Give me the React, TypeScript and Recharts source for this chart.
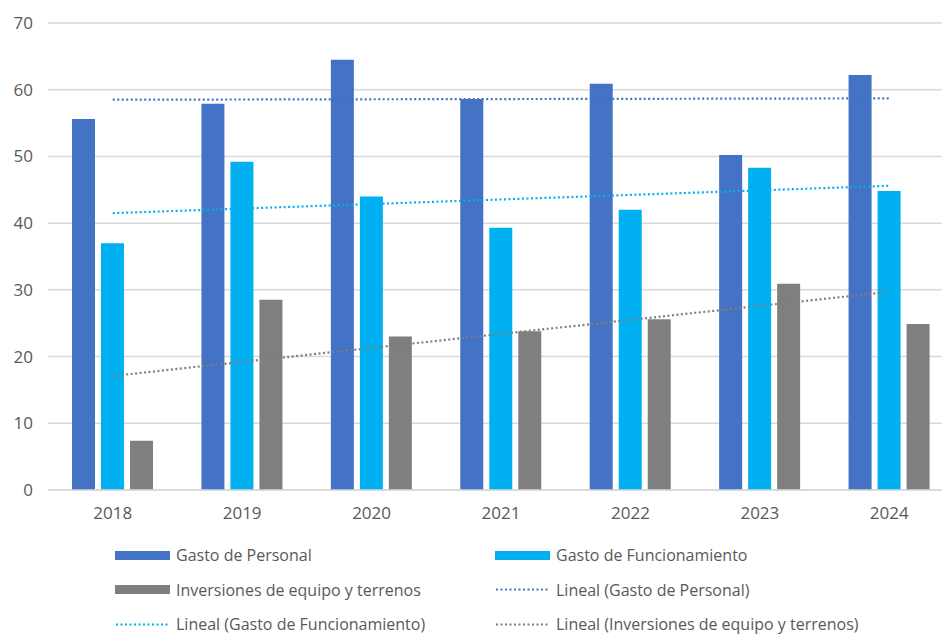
import { Bar, CartesianGrid, ComposedChart, Line, XAxis, YAxis } from 'recharts';

const YEARS = ['2018', '2019', '2020', '2021', '2022', '2023', '2024'];
const PERSONAL = [55.6, 57.9, 64.5, 58.6, 60.9, 50.2, 62.2];
const FUNCIONAMIENTO = [37.0, 49.2, 44.0, 39.3, 42.0, 48.3, 44.8];
const INVERSIONES = [7.4, 28.5, 23.0, 23.8, 25.6, 30.9, 24.9];
// trend lines at the first and last year only
const TREND_PERSONAL = [58.5, null, null, null, null, null, 58.7];
const TREND_FUNC = [41.5, null, null, null, null, null, 45.6];
const TREND_INV = [17.1, null, null, null, null, null, 29.7];
const Y_TICKS = [0, 10, 20, 30, 40, 50, 60, 70];

const C_PERSONAL = '#4472C4';
const C_FUNC = '#00B0F0';
const C_INV = '#7F7F7F';
const TEXT = '#595959';
const FONT = '"Open Sans", sans-serif';

const data = YEARS.map((year, i) => ({
  year,
  personal: PERSONAL[i],
  func: FUNCIONAMIENTO[i],
  inv: INVERSIONES[i],
  tPersonal: TREND_PERSONAL[i],
  tFunc: TREND_FUNC[i],
  tInv: TREND_INV[i],
}));

const LEGEND = [
  { label: 'Gasto de Personal', color: C_PERSONAL, kind: 'bar' },
  { label: 'Gasto de Funcionamiento', color: C_FUNC, kind: 'bar' },
  { label: 'Inversiones de equipo y terrenos', color: C_INV, kind: 'bar' },
  { label: 'Lineal (Gasto de Personal)', color: C_PERSONAL, kind: 'line' },
  { label: 'Lineal (Gasto de Funcionamiento)', color: C_FUNC, kind: 'line' },
  { label: 'Lineal (Inversiones de equipo y terrenos)', color: C_INV, kind: 'line' },
];

export default function App() {
  return (
    <div
      style={{
        position: 'absolute',
        left: 0,
        top: 0,
        width: 942,
        height: 635,
        overflow: 'hidden',
        background: '#fff',
        fontFamily: FONT,
      }}
    >
      <ComposedChart
        width={960}
        height={525}
        data={data}
        margin={{ top: 23, right: 6, bottom: 0, left: 0 }}
        barCategoryGap={24}
        barGap={6}
      >
        <CartesianGrid vertical={false} stroke="#d9d9d9" strokeWidth={1.5} />
        <XAxis
          dataKey="year"
          axisLine={{ stroke: '#d9d9d9', strokeWidth: 1.5 }}
          tickLine={false}
          tickMargin={11}
          height={35}
          tick={{ fill: TEXT, fontSize: 17, fontFamily: FONT }}
        />
        <YAxis
          width={48}
          domain={[0, 70]}
          ticks={Y_TICKS}
          axisLine={false}
          tickLine={false}
          tickMargin={9}
          tick={{ fill: TEXT, fontSize: 17, fontFamily: FONT }}
        />
        <Bar dataKey="personal" fill={C_PERSONAL} isAnimationActive={false} />
        <Bar dataKey="func" fill={C_FUNC} isAnimationActive={false} />
        <Bar dataKey="inv" fill={C_INV} isAnimationActive={false} />
        <Line dataKey="tPersonal" stroke={C_PERSONAL} strokeWidth={2.2} strokeDasharray="2 2.5" dot={false} connectNulls isAnimationActive={false} />
        <Line dataKey="tFunc" stroke={C_FUNC} strokeWidth={2.2} strokeDasharray="2 2.5" dot={false} connectNulls isAnimationActive={false} />
        <Line dataKey="tInv" stroke={C_INV} strokeWidth={2.2} strokeDasharray="2 2.5" dot={false} connectNulls isAnimationActive={false} />
      </ComposedChart>
      {LEGEND.map((item, i) => {
        const col = i % 2;
        const row = Math.floor(i / 2);
        return (
          <div
            key={item.label}
            style={{
              position: 'absolute',
              left: col === 0 ? 115 : 495,
              top: 555 + row * 34.5 - 10,
              height: 20,
              lineHeight: '20px',
              display: 'flex',
              alignItems: 'center',
              whiteSpace: 'nowrap',
              color: TEXT,
              fontSize: 16,
            }}
          >
            {item.kind === 'bar' ? (
              <div style={{ width: 55, height: 9, background: item.color }} />
            ) : (
              <svg width={55} height={9}>
                <line x1={1} y1={4.5} x2={55} y2={4.5} stroke={item.color} strokeWidth={2.2} strokeDasharray="2 2.5" />
              </svg>
            )}
            <span style={{ marginLeft: 6 }}>{item.label}</span>
          </div>
        );
      })}
    </div>
  );
}
